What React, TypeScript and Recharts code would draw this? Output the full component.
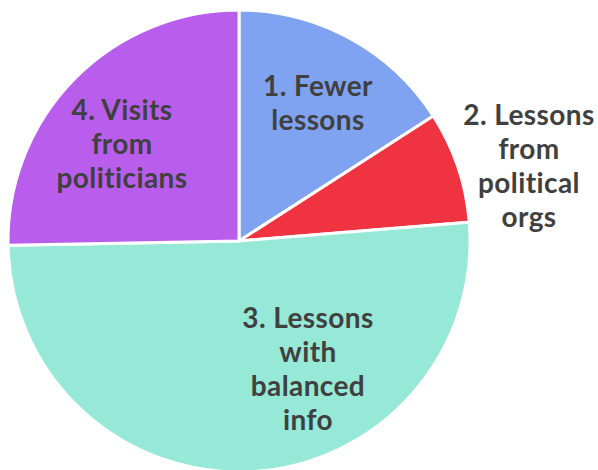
import React from 'react';
import { PieChart, Pie, Cell } from 'recharts';

// slice shares (percent)
const categories = ['1. Fewer lessons', '2. Lessons from political orgs', '3. Lessons with balanced info', '4. Visits from politicians'];
const shares = [15.9, 7.8, 51.0, 25.3];
// label text broken into lines as in the picture
const labelLines = [
    ['1. Fewer', 'lessons'],
    ['2. Lessons', 'from', 'political', 'orgs'],
    ['3. Lessons', 'with', 'balanced', 'info'],
    ['4. Visits', 'from', 'politicians'],
];

const colors = ['#7FA3F0', '#EF3341', '#96E8D7', '#B95EEC'];
// label anchor offset from pie centre (x of line centre, y of first baseline)
const labelOffsets = [
    [79, -145],
    [290, -116],
    [69, 87],
    [-117, -121],
];
const lineGap = 34;

const data = categories.map((name, i) => ({ name, value: shares[i] }));

const renderLabel = (props: any) => {
    const { cx, cy, index } = props;
    const [dx, dy] = labelOffsets[index];
    return (
        <text
            x={cx + dx}
            y={cy + dy}
            textAnchor="middle"
            fill="#404040"
            fontFamily="Lato, sans-serif"
            fontWeight={700}
            fontSize={28}
            letterSpacing={0.4}
        >
            {labelLines[index].map((line, j) => (
                <tspan key={j} x={cx + dx} y={cy + dy + j * lineGap}>{line}</tspan>
            ))}
        </text>
    );
};

const App: React.FC = () => {
    return (
        <div>
            <style>{`body { margin: 0; background: #fff; }`}</style>
            <PieChart width={598} height={470} margin={{ top: 0, right: 0, bottom: 0, left: 0 }}>
                <Pie
                    data={data}
                    dataKey="value"
                    nameKey="name"
                    cx={239}
                    cy={241}
                    outerRadius={231}
                    startAngle={90}
                    endAngle={-270}
                    stroke="#ffffff"
                    strokeWidth={3}
                    label={renderLabel}
                    labelLine={false}
                    isAnimationActive={false}
                >
                    {data.map((entry, i) => (
                        <Cell key={entry.name} fill={colors[i]} />
                    ))}
                </Pie>
            </PieChart>
        </div>
    );
};

export default App;
